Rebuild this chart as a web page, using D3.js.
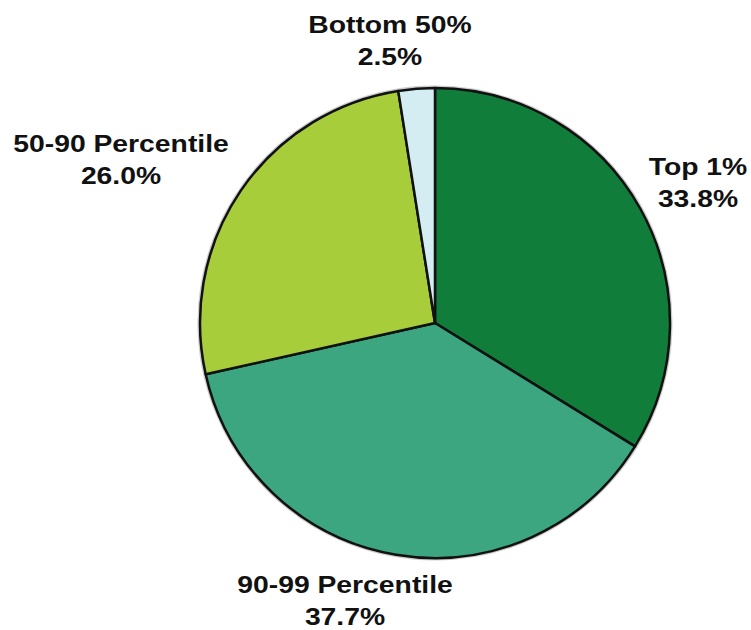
<html>
  <head>
    <script src="https://cdn.jsdelivr.net/npm/d3@7"></script>
    <style>
      body { margin: 0; background: #fff; }
      text { font-family: "Liberation Sans", Arial, sans-serif; font-weight: bold; fill: #111; }
    </style>
  </head>
  <body>
    <div id="chart"></div>
  </body>
  <script>
    // data
    const categories = ['Top 1%', '90-99 Percentile', '50-90 Percentile', 'Bottom 50%']
    const shares = [33.8, 37.7, 26.0, 2.5]
    const shareLabels = ['33.8%', '37.7%', '26.0%', '2.5%']
    const colors = ['#117d3a', '#3ba67f', '#a7ce3a', '#d4edf3']

    const width = 751, height = 630
    const cx = 435, cy = 323, radius = 235

    // where the two-line labels sit (centre x, first baseline y)
    const labelPos = {
      'Top 1%': [698, 175],
      '90-99 Percentile': [345, 593],
      '50-90 Percentile': [121, 152],
      'Bottom 50%': [390, 33]
    }

    const svg = d3.select('#chart').append('svg')
      .attr('width', width)
      .attr('height', height)

    const data = categories.map((c, i) => ({name: c, value: shares[i], label: shareLabels[i], color: colors[i]}))

    const pie = d3.pie().sort(null).value(d => d.value)
    const arc = d3.arc().innerRadius(0).outerRadius(radius)

    const g = svg.append('g').attr('transform', 'translate(' + cx + ',' + cy + ')')

    // soft shadow ring along the rim
    g.append('circle')
      .attr('r', radius + 1)
      .attr('fill', 'none')
      .attr('stroke', '#999')
      .attr('stroke-width', 3)
      .attr('opacity', 0.5)

    g.selectAll('path')
      .data(pie(data))
      .enter().append('path')
      .attr('d', arc)
      .attr('fill', d => d.data.color)
      .attr('stroke', '#111')
      .attr('stroke-width', 2.5)
      .attr('stroke-linejoin', 'round')

    // labels
    const labels = svg.append('g').selectAll('g')
      .data(data)
      .enter().append('g')
      .attr('transform', d => 'translate(' + labelPos[d.name][0] + ',' + labelPos[d.name][1] + ') scale(1.18,1)')

    labels.append('text')
      .attr('text-anchor', 'middle')
      .attr('font-size', 24)
      .text(d => d.name)

    labels.append('text')
      .attr('text-anchor', 'middle')
      .attr('font-size', 24)
      .attr('y', 32)
      .text(d => d.label)
  </script>
</html>
